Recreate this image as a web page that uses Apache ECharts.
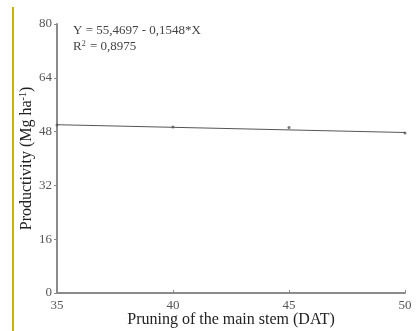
<!DOCTYPE html>
<html>
<head>
<meta charset="utf-8">
<script src="https://cdn.jsdelivr.net/npm/echarts@6/dist/echarts.min.js"></script>
<style>
html, body { margin: 0; padding: 0; background: #fff; }
#chart { width: 419px; height: 331px; }
</style>
</head>
<body>
<div id="chart"></div>
<script>
// 观测点 (DAT, Mg ha-1)
var pruningDays = [35, 40, 45, 50];
var productivity = [50.0, 49.4, 49.2, 47.6];
// 回归线两端
var fitDays = [35, 50];
var fitValues = [50.05, 47.73];
var yTicks = [0, 16, 32, 48, 64, 80];
var equationText = 'Y = 55,4697 - 0,1548*X';
var r2Text = '0,8975';

var chart = echarts.init(document.getElementById('chart'));

var serif = 'Liberation Serif';
var option = {
    backgroundColor: '#fff',
    animation: false,
    grid: {
        left: 57,
        right: 14,
        top: 24,
        bottom: 38,
        outerBoundsMode: 'none',
        containLabel: false
    },
    graphic: [{
        // 左侧黄色边线
        type: 'line',
        shape: { x1: 13, y1: 7, x2: 13, y2: 331 },
        style: { stroke: '#c8b400', lineWidth: 2 }
    }, {
        type: 'text',
        left: 73,
        top: 24,
        style: {
            text: equationText,
            font: '13px "Liberation Serif"',
            fill: '#444'
        }
    }, {
        type: 'text',
        left: 73,
        top: 40,
        style: {
            text: '{a|R}{s|2}{a| = ' + r2Text + '}',
            fill: '#444',
            rich: {
                a: { fontFamily: serif, fontSize: 13, fill: '#444' },
                s: { fontFamily: serif, fontSize: 8, fill: '#444', verticalAlign: 'top', padding: [0, 1, 6, 0] }
            }
        }
    }],
    xAxis: {
        type: 'value',
        min: 35,
        max: 50,
        interval: 5,
        name: 'Pruning of the main stem (DAT)',
        nameLocation: 'middle',
        nameGap: 19,
        nameMoveOverlap: false,
        nameTextStyle: {
            fontFamily: serif,
            fontSize: 16,
            color: '#222'
        },
        axisLine: { lineStyle: { color: '#8a8a8a', width: 2 } },
        axisTick: { show: true, length: 3, inside: true, lineStyle: { color: '#8a8a8a' } },
        axisLabel: {
            fontFamily: serif,
            fontSize: 13,
            color: '#555',
            margin: 6
        },
        splitLine: { show: false }
    },
    yAxis: {
        type: 'value',
        min: 0,
        max: 80,
        interval: 16,
        name: '{t|Productivity (Mg ha}{s|-1}{t|)}',
        nameLocation: 'middle',
        nameGap: 21,
        nameMoveOverlap: false,
        nameTextStyle: {
            rich: {
                t: { fontFamily: serif, fontSize: 16, color: '#222' },
                s: { fontFamily: serif, fontSize: 10, color: '#222', verticalAlign: 'top', padding: [0, 0, 8, 0] }
            }
        },
        axisLine: { show: true, lineStyle: { color: '#8a8a8a', width: 2 } },
        axisTick: { show: true, length: 3, lineStyle: { color: '#8a8a8a' } },
        axisLabel: {
            fontFamily: serif,
            fontSize: 13,
            color: '#555',
            margin: 5,
            formatter: function (v) {
                return yTicks.indexOf(v) >= 0 ? String(v) : '';
            }
        },
        splitLine: { show: false }
    },
    series: [{
        name: 'fit',
        type: 'line',
        data: fitDays.map(function (d, i) { return [d, fitValues[i]]; }),
        showSymbol: false,
        lineStyle: { color: '#555', width: 1 },
        silent: true
    }, {
        name: 'observed',
        type: 'scatter',
        data: pruningDays.map(function (d, i) { return [d, productivity[i]]; }),
        symbolSize: 3,
        itemStyle: { color: '#555' }
    }]
};
chart.setOption(option);
</script>
</body>
</html>
